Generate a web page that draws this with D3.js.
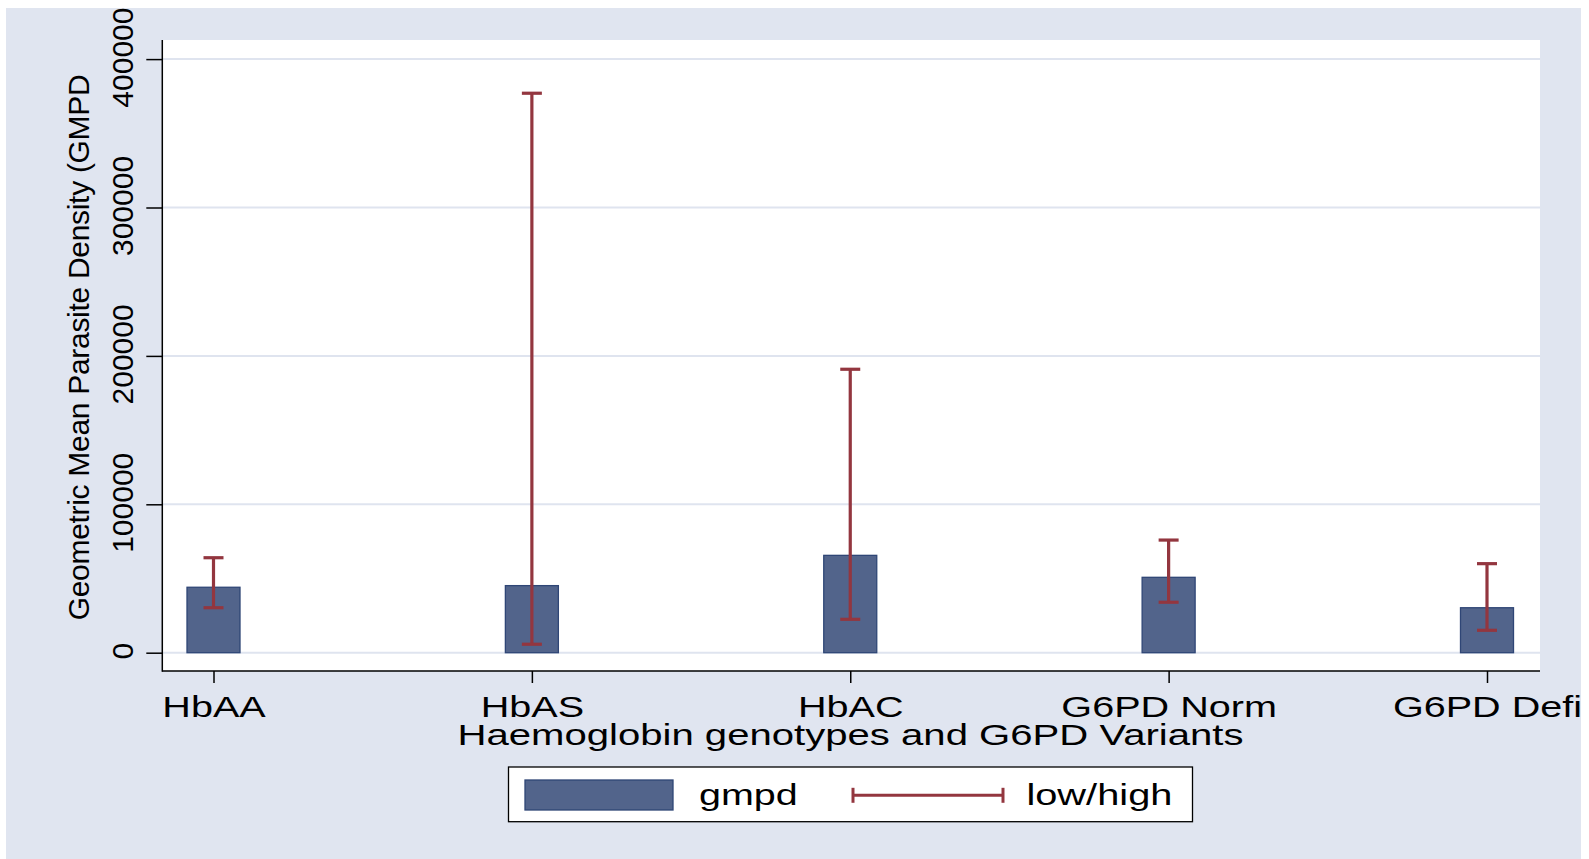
<!DOCTYPE html>
<html>
<head>
<meta charset="utf-8">
<script src="https://cdn.jsdelivr.net/npm/d3@7"></script>
<style>
  body { margin: 0; background: #ffffff; }
  text { font-family: "Liberation Sans", Arial, Helvetica, sans-serif; fill: #000; }
</style>
</head>
<body>
<script>
// values
var categories = ["HbAA", "HbAS", "HbAC", "G6PD Norm", "G6PD Defi"];
var gmpd = [44100, 45200, 65600, 50800, 30300];
var high = [64000, 377000, 191000, 75900, 60000];
var low  = [30300, 5700, 22500, 34000, 15100];
var yTicks = [0, 100000, 200000, 300000, 400000];

var W = 1589, H = 859;
var plot = { left: 162.3, right: 1540, top: 40, bottom: 671 };

var svg = d3.select("body").append("svg")
    .attr("width", W)
    .attr("height", H);

// grey-blue graph region
svg.append("rect")
    .attr("x", 6).attr("y", 8)
    .attr("width", 1575).attr("height", H - 8)
    .attr("fill", "#e0e5f0");

// white plot region
svg.append("rect")
    .attr("x", plot.left).attr("y", plot.top)
    .attr("width", plot.right - plot.left).attr("height", plot.bottom - plot.top)
    .attr("fill", "#ffffff");

var x = d3.scalePoint().domain(categories).range([213.5, 1487]);
var y = d3.scaleLinear().domain([0, 400000]).range([652.7, 59.1]);

var data = categories.map(function(c, i) {
    return { cat: c, gmpd: gmpd[i], high: high[i], low: low[i] };
});

// gridlines
svg.append("g").selectAll("line")
    .data(yTicks)
    .enter().append("line")
    .attr("x1", plot.left).attr("x2", plot.right)
    .attr("y1", function(d) { return y(d); })
    .attr("y2", function(d) { return y(d); })
    .attr("stroke", "#dfe4ef")
    .attr("stroke-width", 2);

// bars
var barW = 53;
svg.append("g").selectAll("rect")
    .data(data)
    .enter().append("rect")
    .attr("x", function(d) { return x(d.cat) - barW / 2; })
    .attr("y", function(d) { return y(d.gmpd); })
    .attr("width", barW)
    .attr("height", function(d) { return y(0) - y(d.gmpd); })
    .attr("fill", "#52648b")
    .attr("stroke", "#2f4676")
    .attr("stroke-width", 1.3);

// error bars (low/high)
var capW = 20;
var err = svg.append("g")
    .attr("stroke", "#93363f")
    .attr("stroke-width", 3.2)
    .selectAll("g")
    .data(data)
    .enter().append("g");
err.append("line")
    .attr("x1", function(d) { return x(d.cat); })
    .attr("x2", function(d) { return x(d.cat); })
    .attr("y1", function(d) { return y(d.low); })
    .attr("y2", function(d) { return y(d.high); });
err.append("line")
    .attr("x1", function(d) { return x(d.cat) - capW / 2; })
    .attr("x2", function(d) { return x(d.cat) + capW / 2; })
    .attr("y1", function(d) { return y(d.high); })
    .attr("y2", function(d) { return y(d.high); });
err.append("line")
    .attr("x1", function(d) { return x(d.cat) - capW / 2; })
    .attr("x2", function(d) { return x(d.cat) + capW / 2; })
    .attr("y1", function(d) { return y(d.low); })
    .attr("y2", function(d) { return y(d.low); });

// y axis
var yAxis = svg.append("g")
    .attr("transform", "translate(" + plot.left + ",0)")
    .call(d3.axisLeft(y).tickValues(yTicks).tickSize(16).tickFormat(d3.format("d")));
yAxis.select(".domain").remove();
yAxis.selectAll(".tick line").attr("stroke", "#000").attr("stroke-width", 1.5);
yAxis.selectAll(".tick text")
    .attr("x", 2).attr("y", -29.8).attr("dy", 0)
    .attr("text-anchor", "middle")
    .attr("transform", "rotate(-90)")
    .style("font-size", "30px")
    .style("font-family", "Liberation Sans, Arial, sans-serif")
    .attr("fill", "#000");

// x axis
var xAxis = svg.append("g")
    .attr("transform", "translate(0," + plot.bottom + ")")
    .call(d3.axisBottom(x).tickSize(12).tickSizeOuter(0));
xAxis.select(".domain").remove();
xAxis.selectAll(".tick line").attr("stroke", "#000").attr("stroke-width", 1.5);
xAxis.selectAll(".tick text")
    .attr("y", 45.7).attr("dy", 0)
    .attr("text-anchor", "middle")
    .attr("transform", "scale(1.32,1)")
    .style("font-size", "30px")
    .style("font-family", "Liberation Sans, Arial, sans-serif")
    .attr("fill", "#000");

// axis lines
svg.append("line")
    .attr("x1", plot.left).attr("x2", plot.left)
    .attr("y1", plot.top).attr("y2", plot.bottom + 0.75)
    .attr("stroke", "#000").attr("stroke-width", 1.5);
svg.append("line")
    .attr("x1", plot.left).attr("x2", plot.right)
    .attr("y1", plot.bottom).attr("y2", plot.bottom)
    .attr("stroke", "#000").attr("stroke-width", 1.5);

// axis titles
svg.append("text")
    .attr("transform", "translate(88.5,347.5) rotate(-90)")
    .attr("text-anchor", "middle")
    .style("font-size", "30px")
    .style("letter-spacing", "-0.3px")
    .text("Geometric Mean Parasite Density (GMPD");

svg.append("text")
    .attr("transform", "translate(850.5,745) scale(1.337,1)")
    .attr("text-anchor", "middle")
    .style("font-size", "30px")
    .text("Haemoglobin genotypes and G6PD Variants");

// legend
var legend = svg.append("g");
legend.append("rect")
    .attr("x", 508.5).attr("y", 767)
    .attr("width", 684).attr("height", 54.7)
    .attr("fill", "#ffffff")
    .attr("stroke", "#000").attr("stroke-width", 1.3);
legend.append("rect")
    .attr("x", 525).attr("y", 780)
    .attr("width", 148).attr("height", 30)
    .attr("fill", "#52648b")
    .attr("stroke", "#2f4676").attr("stroke-width", 1.3);
legend.append("text")
    .attr("transform", "translate(699,805) scale(1.316,1)")
    .style("font-size", "30px")
    .text("gmpd");
var lg = legend.append("g").attr("stroke", "#93363f").attr("stroke-width", 3);
lg.append("line").attr("x1", 853).attr("x2", 1003).attr("y1", 795.3).attr("y2", 795.3);
lg.append("line").attr("x1", 853).attr("x2", 853).attr("y1", 787.8).attr("y2", 802.8);
lg.append("line").attr("x1", 1003).attr("x2", 1003).attr("y1", 787.8).attr("y2", 802.8);
legend.append("text")
    .attr("transform", "translate(1026.4,805) scale(1.327,1)")
    .style("font-size", "30px")
    .text("low/high");
</script>
</body>
</html>
